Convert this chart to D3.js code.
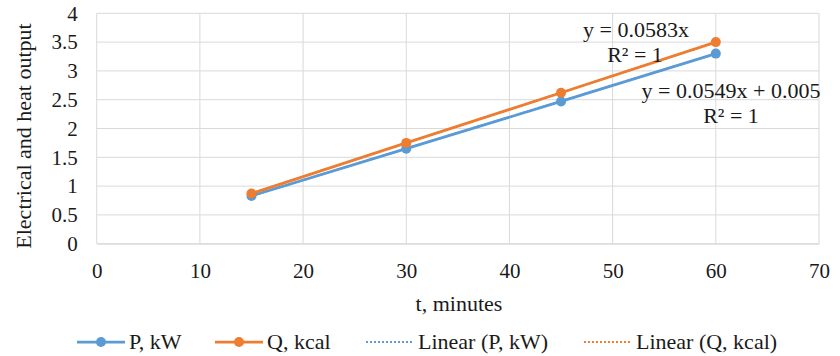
<!DOCTYPE html>
<html lang="en">
<head>
<meta charset="utf-8">
<title>Electrical and heat output</title>
<style>
  body {margin: 0; background: #fff;}
  svg  {display: block;}
  svg text {font-family: "Liberation Serif", "Times New Roman", serif; fill: #1a1a1a;}
  .grid line {stroke: #d9d9d9; stroke-width: 1;}
  .tick text {font-size: 21px;}
  .lbl {font-size: 22px;}
</style>
</head>
<body>
<svg id="chart" width="840" height="356"></svg>
<script src="https://d3js.org/d3.v7.min.js"></script>
<script>
// data
const minutes = [15, 30, 45, 60];
const powerKW = [0.83, 1.65, 2.47, 3.30];
const heatKcal = [0.87, 1.75, 2.62, 3.50];
const xTicks = [0, 10, 20, 30, 40, 50, 60, 70];
const yTicks = [0, 0.5, 1, 1.5, 2, 2.5, 3, 3.5, 4];
// trendline coefficients (slope, intercept)
const trendP = [0.0549, 0.005];
const trendQ = [0.0583, 0];

const blue = "#5b9bd5", orange = "#ed7d31";

const svg = d3.select("#chart");
const x = d3.scaleLinear().domain([0, 70]).range([96.7, 819]);
const y = d3.scaleLinear().domain([0, 4]).range([243.7, 13.3]);

// gridlines
svg.append("g").attr("class", "grid")
  .selectAll("line").data(yTicks).join("line")
    .attr("x1", x(0)).attr("x2", x(70))
    .attr("y1", d => y(d)).attr("y2", d => y(d));
svg.append("g").attr("class", "grid")
  .selectAll("line").data(xTicks).join("line")
    .attr("y1", y(0)).attr("y2", y(4))
    .attr("x1", d => x(d)).attr("x2", d => x(d));

// axes (labels only)
const xAxis = svg.append("g").attr("transform", `translate(0,${y(0)})`)
  .call(d3.axisBottom(x).tickValues(xTicks).tickSize(0).tickPadding(19));
const yAxis = svg.append("g").attr("transform", `translate(${x(0)},0)`)
  .call(d3.axisLeft(y).tickValues(yTicks).tickSize(0).tickPadding(19).tickFormat(d3.format("")));
xAxis.select(".domain").attr("stroke", "#d9d9d9");
yAxis.select(".domain").remove();
svg.selectAll("g").attr("font-family", null).attr("font-size", null);

// trendlines (dotted, under the series)
function trend(c, color) {
  svg.append("line")
    .attr("x1", x(minutes[0])).attr("x2", x(minutes[minutes.length - 1]))
    .attr("y1", y(c[0] * minutes[0] + c[1]))
    .attr("y2", y(c[0] * minutes[minutes.length - 1] + c[1]))
    .attr("stroke", color).attr("stroke-width", 2).attr("stroke-dasharray", "2,2");
}
trend(trendP, blue);
trend(trendQ, orange);

// series
const line = d3.line().x((d, i) => x(minutes[i])).y(d => y(d));
function series(vals, color) {
  svg.append("path").datum(vals)
    .attr("d", line).attr("fill", "none")
    .attr("stroke", color).attr("stroke-width", 2.75);
  svg.append("g").selectAll("circle").data(vals).join("circle")
    .attr("cx", (d, i) => x(minutes[i])).attr("cy", d => y(d))
    .attr("r", 5).attr("fill", color);
}
series(powerKW, blue);
series(heatKcal, orange);

// trendline equations
const eq = [
  {t: "y = 0.0583x", x: 636, y: 37},
  {t: "R² = 1", x: 635, y: 62},
  {t: "y = 0.0549x + 0.005", x: 731, y: 98},
  {t: "R² = 1", x: 731, y: 123}
];
svg.append("g").selectAll("text").data(eq).join("text")
  .attr("class", "lbl").attr("text-anchor", "middle")
  .attr("x", d => d.x).attr("y", d => d.y).text(d => d.t);

// axis titles
svg.append("text").attr("class", "lbl").attr("text-anchor", "middle")
  .attr("x", 459).attr("y", 311).text("t, minutes");
svg.append("text").attr("class", "lbl").attr("text-anchor", "middle")
  .attr("transform", "translate(31,136) rotate(-90)").text("Electrical and heat output");

// legend
const legend = [
  {name: "P, kW", color: blue, dot: true, x: 77},
  {name: "Q, kcal", color: orange, dot: true, x: 215},
  {name: "Linear (P, kW)", color: blue, dot: false, x: 366},
  {name: "Linear (Q, kcal)", color: orange, dot: false, x: 584}
];
const lg = svg.append("g").selectAll("g").data(legend).join("g")
  .attr("transform", d => `translate(${d.x},342)`);
lg.append("line").attr("x1", 0).attr("x2", 48)
  .attr("stroke", d => d.color)
  .attr("stroke-width", d => d.dot ? 2.75 : 2)
  .attr("stroke-dasharray", d => d.dot ? null : "2,2");
lg.filter(d => d.dot).append("circle").attr("cx", 24).attr("r", 5).attr("fill", d => d.color);
lg.append("text").attr("class", "lbl").attr("x", 52).attr("y", 7).text(d => d.name);
</script>
</body>
</html>
